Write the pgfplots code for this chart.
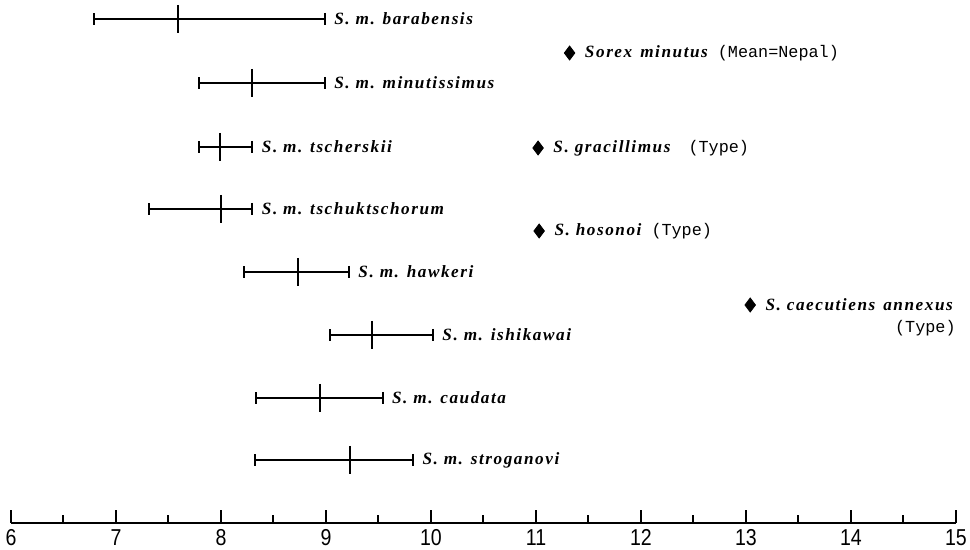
\documentclass[border=0pt]{standalone}
\usepackage{fontspec}
\usepackage{pgfplots}
\usepackage{pgfplotstable}
\pgfplotsset{compat=1.18}
\setmainfont{Liberation Serif}
\newfontfamily\labfont{Liberation Serif}[LetterSpace=9]
\newfontfamily\parfont{Liberation Mono}
\newfontfamily\tickfont{Liberation Sans}[FakeStretch=0.85]

% y = vertical position of each row (px above axis line), lo/mean/hi on x scale
\pgfplotstableread{
y lo mean hi
504 6.79 7.59 8.99
440 7.79 8.30 8.99
376 7.79 7.99 8.30
314 7.31 8.00 8.30
251 8.22 8.73 9.22
188 9.04 9.44 10.02
125 8.33 8.94 9.54
63 8.32 9.23 9.83
}\bars

\pgfplotstableread{
x y
11.32 470
11.02 375
11.03 292
13.04 218
}\types

\begin{document}
\begin{tikzpicture}
\path[use as bounding box] (0,0) rectangle (485pt,275pt);
\begin{axis}[
  at={(5.5pt,13.5pt)}, anchor=south west,
  scale only axis, width=472.5pt, height=261.5pt,
  xmin=6, xmax=15, ymin=0, ymax=523,
  axis x line=bottom, axis y line=none,
  axis line style={line width=1pt, -},
  x axis line style={-},
  xtick={6,...,15}, minor xtick={6.5,7.5,...,14.5},
  tick align=inside,
  major tick length=6.5pt, minor tick length=4pt,
  tick style={line width=1pt, black},
  /pgf/number format/assume math mode=true,
  xticklabel style={font=\tickfont\fontsize{11.5}{11.5}\selectfont, inner sep=0pt, yshift=-3pt},
  clip=false,
]
\addplot[only marks, mark=|, mark size=7pt, mark options={line width=1pt},
  error bars/.cd, x dir=both, x explicit,
  error bar style={line width=1pt},
  error mark=|, error mark options={mark size=3pt, line width=1pt}]
  table[x=mean, y=y,
        x error plus expr=\thisrow{hi}-\thisrow{mean},
        x error minus expr=\thisrow{mean}-\thisrow{lo}] {\bars};

\addplot[only marks, mark=diamond*, mark size=3.5pt, black] table[x=x, y=y] {\types};

\begin{scope}[every node/.style={anchor=west, inner sep=0pt, font=\labfont\bfseries\itshape\fontsize{8.6}{8.6}\selectfont}]
\node[xshift=4.5pt] at (axis cs:8.99,504) {S. m. barabensis};
\node[xshift=4.5pt] at (axis cs:8.99,440) {S. m. minutissimus};
\node[xshift=4.5pt] at (axis cs:8.30,376) {S. m. tscherskii};
\node[xshift=4.5pt] at (axis cs:8.30,314) {S. m. tschuktschorum};
\node[xshift=4.5pt] at (axis cs:9.22,251) {S. m. hawkeri};
\node[xshift=4.5pt] at (axis cs:10.02,188) {S. m. ishikawai};
\node[xshift=4.5pt] at (axis cs:9.54,125) {S. m. caudata};
\node[xshift=4.5pt] at (axis cs:9.83,63) {S. m. stroganovi};
\node[xshift=7.5pt] at (axis cs:11.32,470) {Sorex\hspace{4pt}minutus\hspace{5pt}{\parfont\mdseries\upshape\fontsize{8.4}{8.4}\selectfont(Mean=Nepal)}};
\node[xshift=7.5pt] at (axis cs:11.02,375) {S. gracillimus\hspace{9pt}{\parfont\mdseries\upshape\fontsize{8.4}{8.4}\selectfont(Type)}};
\node[xshift=7.5pt] at (axis cs:11.03,292) {S. hosonoi\hspace{5pt}{\parfont\mdseries\upshape\fontsize{8.4}{8.4}\selectfont(Type)}};
\node[xshift=7.5pt] at (axis cs:13.04,218) {S. caecutiens\hspace{4pt}annexus};
\node[anchor=east] at (axis cs:15,195) {\parfont\mdseries\upshape\fontsize{8.4}{8.4}\selectfont(Type)};
\end{scope}
\end{axis}
\end{tikzpicture}
\end{document}
